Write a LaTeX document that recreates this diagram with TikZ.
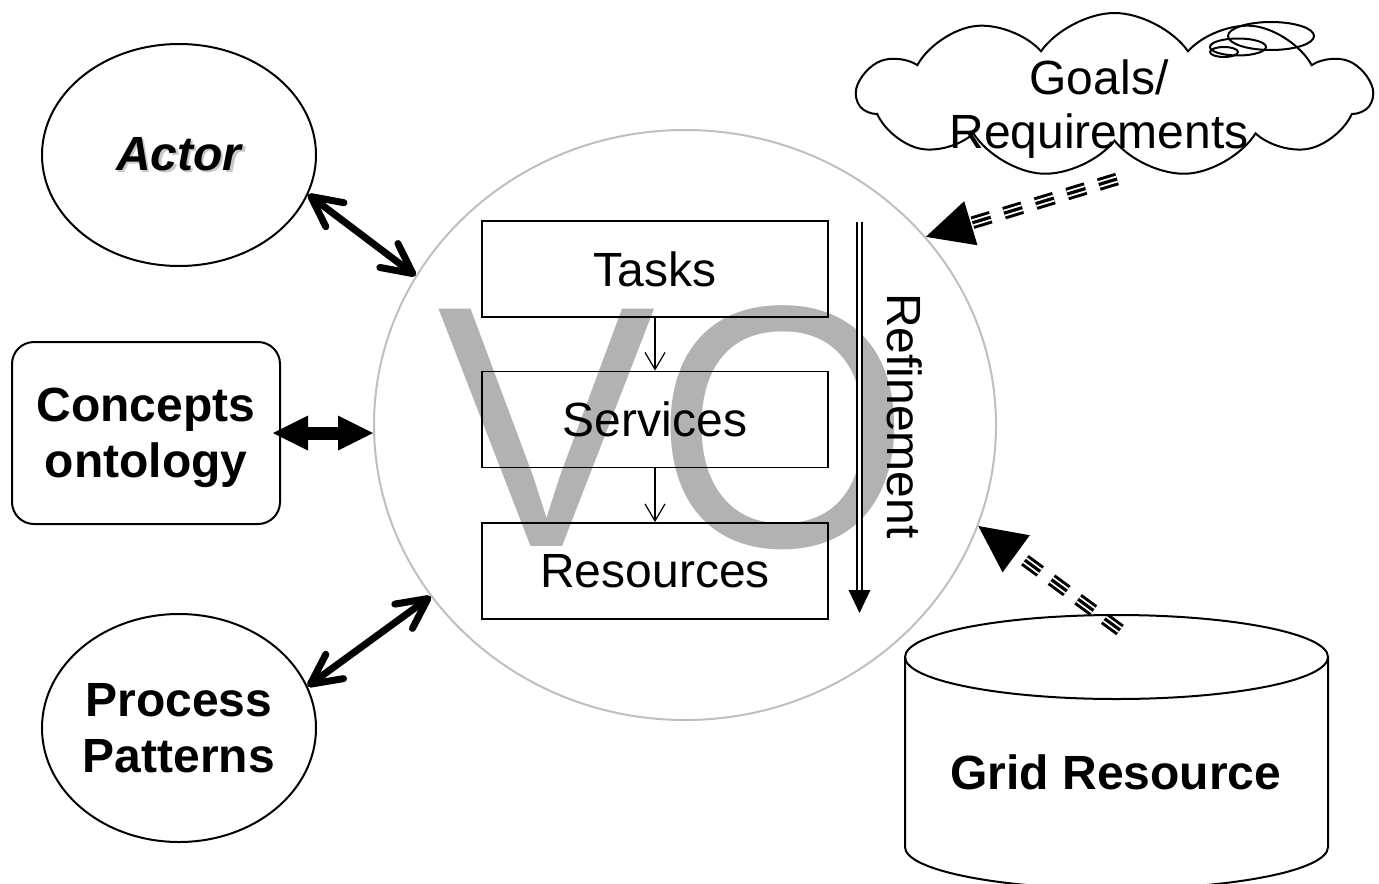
\documentclass[tikz,border=0pt]{standalone}
\usepackage{fontspec}
\setmainfont{Liberation Sans}
\usetikzlibrary{arrows.meta,shapes.geometric,shapes.symbols}

% text with a soft grey drop shadow
\newcommand\shadowtext[1]{\makebox[0pt][l]{\hspace{1.1pt}\raisebox{-1.1pt}{\textcolor{black!22}{#1}}}#1}

\begin{document}
\begin{tikzpicture}[x=0.5pt,y=-0.5pt,
  lbl/.style={font=\fontsize{24}{28}\selectfont, align=center, text depth=0pt, inner sep=0pt},
  boldlbl/.style={font=\fontsize{24}{28}\selectfont\bfseries, align=center, text depth=0pt, inner sep=0pt},
  outline/.style={draw, line width=1pt},
  layer/.style={draw, line width=0.9pt, minimum width=173pt, minimum height=48pt,
    inner sep=0pt, font=\fontsize{24}{28}\selectfont},
  flow/.style={line width=0.6pt, -{Straight Barb[length=8.5pt,width=10pt]}},
  link/.style={line width=3.5pt,
    {Straight Barb[length=15pt,width=15pt,round]}-{Straight Barb[length=15pt,width=15pt,round]}},
  block/.style={line width=6.5pt,
    {Triangle[length=17.5pt,width=17.5pt,line width=0pt]}-{Triangle[length=17.5pt,width=17.5pt,line width=0pt]}},
  feedA/.style={line width=6.4pt, dash pattern=on 9.5pt off 7pt,
    -{Triangle[length=23.5pt,width=23pt,line width=0pt]}},
  feedB/.style={white, line width=3.4pt, dash pattern=on 9.5pt off 7pt, shorten >=23.5pt},
  feedC/.style={line width=1.6pt, dash pattern=on 9.5pt off 7pt, shorten >=23.5pt},
]
\useasboundingbox (0,0) rectangle (1379,883);

% large watermark letters of the virtual organisation
\node[text=black!30, font=\fontsize{172.5}{172.5}\selectfont, inner sep=0pt] (votext) at (674,428) {\scalebox{0.95}[1]{VO}};

% the organisation itself
\node[draw=black!25, line width=1pt, ellipse, minimum width=311pt, minimum height=295pt,
  inner sep=0pt] (vo) at (685,425) {};

% refinement layers
\node[layer] (tasks) at (655,269) {Tasks};
\node[layer] (services) at (655,419.5) {Services};
\node[layer] (resources) at (655,571) {Resources};
\draw[flow] (tasks) -- (services);
\draw[flow] (services) -- (resources);

% refinement direction
\coordinate (reftop) at (859.5,221.5);
\coordinate (refend) at (859.5,613);
\draw[line width=0.65pt, double, double distance=1.85pt, shorten >=11pt] (reftop) -- (refend);
\fill (refend) -- ++(-11,-23) -- ++(22,0) -- cycle;
\node[lbl, rotate=-90] (reftext) at (905,416) {Refinement};

% surrounding knowledge sources
\node[ellipse, outline, minimum width=137pt, minimum height=111pt, inner sep=0pt,
  font=\fontsize{24}{28}\selectfont\bfseries\itshape] (actor) at (179,155) {\shadowtext{Actor}};
\node[outline, rounded corners=11pt, minimum width=134pt, minimum height=91pt,
  boldlbl] (concepts) at (146,433) {Concepts\\ontology};
\node[ellipse, outline, minimum width=137pt, minimum height=114pt, inner sep=0pt,
  boldlbl] (process) at (179,728) {Process\\Patterns};

\draw[link] (actor.-17) -- (vo.151.5);
\draw[block, shorten <=-4pt] (concepts.east) -- (concepts.east -| vo.west);
\draw[link] (process.18) -- (vo.214.7);

% goals cloud
\node[cloud, draw, line width=1pt, cloud puffs=11, cloud puff arc=110, cloud ignores aspect,
  minimum width=257pt, minimum height=82pt, inner sep=0pt] (cloud) at (1114.5,95) {};
\node[ellipse, draw, line width=1pt, minimum width=43pt, minimum height=14pt, inner sep=0pt] (bubbleA) at (1271,36) {};
\node[ellipse, draw, line width=1pt, minimum width=28pt, minimum height=8.5pt, inner sep=0pt] (bubbleB) at (1238,47) {};
\node[ellipse, draw, line width=1pt, minimum width=14pt, minimum height=5pt, inner sep=0pt] (bubbleC) at (1224,52) {};
\node[font=\fontsize{24}{27}\selectfont, align=center, text depth=0pt, inner sep=0pt] (goals) at (1099,104.5) {Goals/\\Requirements};

% grid resource store
\draw[outline] (905,657) -- (905,847) arc[start angle=180, end angle=0, x radius=211.5, y radius=42] -- (1328,657);
\draw[outline] (1116.5,657) ellipse [x radius=211.5, y radius=42];
\node[boldlbl] (grid) at (1116,772) {Grid Resource};

% requirement and resource feeds
\coordinate (gfrom) at (1117,179);
\coordinate (rfrom) at (1120,630);
\draw[feedA] (gfrom) -- (vo.38.4);
\draw[feedB] (gfrom) -- (vo.38.4);
\draw[feedC] (gfrom) -- (vo.38.4);
\draw[feedA] (rfrom) -- (vo.-19.2);
\draw[feedB] (rfrom) -- (vo.-19.2);
\draw[feedC] (rfrom) -- (vo.-19.2);
\end{tikzpicture}
\end{document}
